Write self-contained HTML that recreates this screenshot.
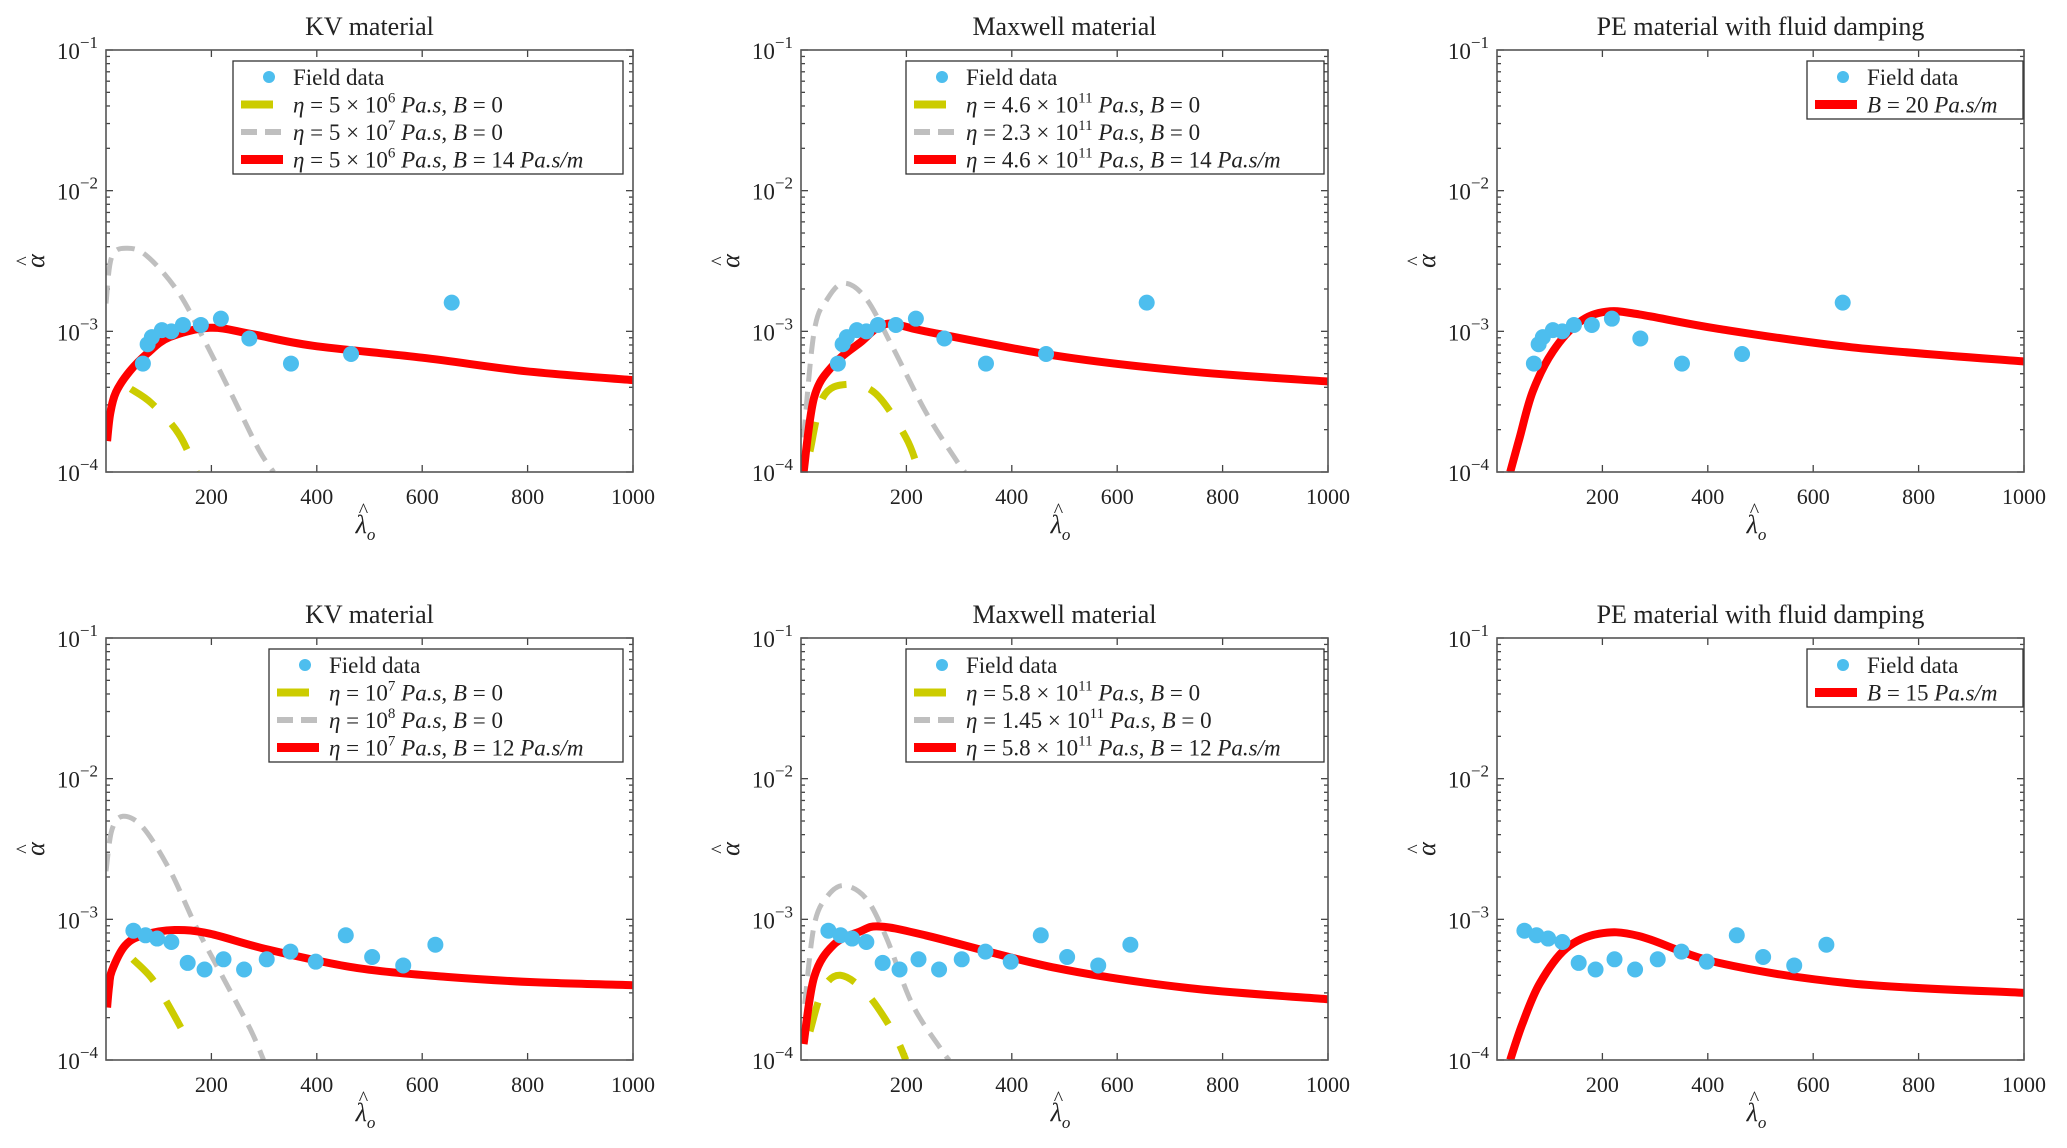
<!DOCTYPE html>
<html><head><meta charset="utf-8"><style>
html,body{margin:0;padding:0;background:#fff}
svg{display:block}
text{font-family:"Liberation Serif",serif;fill:#222}
</style></head><body>
<svg id="fig" width="2067" height="1148" viewBox="0 0 2067 1148" xmlns="http://www.w3.org/2000/svg"></svg>
<script>
// ---- data ----
const topFieldX = [70,79,87,106,124,146,180,218,272,351,465,656];
const topFieldY = [5.9e-4,8.1e-4,9.1e-4,1.02e-3,1.0e-3,1.11e-3,1.11e-3,1.23e-3,8.9e-4,5.9e-4,6.9e-4,1.6e-3];
const botFieldX = [52,75,97,124,155,187,223,262,305,350,398,455,505,564,625];
const botFieldY = [8.3e-4,7.7e-4,7.3e-4,6.9e-4,4.9e-4,4.4e-4,5.2e-4,4.4e-4,5.2e-4,5.9e-4,5.0e-4,7.7e-4,5.4e-4,4.7e-4,6.6e-4];

const kv1RedX = [2,8,19,45,79,121,197,274,392,600,798,1000];
const kv1RedY = [1.66e-4,2.6e-4,3.7e-4,5.2e-4,7.0e-4,9.1e-4,1.06e-3,9.6e-4,7.9e-4,6.5e-4,5.2e-4,4.5e-4];
const kv1GrayX = [0,11,41,79,138,189,240,290,318];
const kv1GrayY = [1.58e-3,3.4e-3,3.9e-3,3.4e-3,1.88e-3,8.3e-4,3.45e-4,1.44e-4,1.0e-4];
const kv1YelX = [47,87,138,172];
const kv1YelY = [3.9e-4,3.07e-4,1.87e-4,1.0e-4];

const mx1RedX = [5,25,62,112,162,236,485,734,1000];
const mx1RedY = [1.0e-4,3.4e-4,5.8e-4,8.3e-4,1.13e-3,1.0e-3,6.7e-4,5.2e-4,4.4e-4];
const mx1GrayX = [5,25,50,82,124,174,236,291,311];
const mx1GrayY = [1.76e-4,1.0e-3,1.7e-3,2.2e-3,1.7e-3,7.7e-4,2.7e-4,1.27e-4,1.0e-4];
const mx1YelX = [17,42,87,142,199,224];
const mx1YelY = [1.4e-4,3.4e-4,4.2e-4,3.6e-4,1.76e-4,1.0e-4];

const pe1RedX = [25,43,68,106,156,207,270,421,673,1000];
const pe1RedY = [1.0e-4,1.76e-4,3.75e-4,7.2e-4,1.16e-3,1.38e-3,1.32e-3,1.04e-3,7.7e-4,6.1e-4];

const kv2RedX = [2,6,11,36,70,130,197,307,477,646,815,1000];
const kv2RedY = [2.36e-4,3.4e-4,4.3e-4,6.5e-4,7.7e-4,8.4e-4,7.9e-4,6.1e-4,4.5e-4,3.9e-4,3.57e-4,3.4e-4];
const kv2GrayX = [0,11,32,70,121,172,223,274,299];
const kv2GrayY = [2.2e-3,4.3e-3,5.4e-3,4.5e-3,2.24e-3,8.7e-4,3.8e-4,1.65e-4,1.0e-4];
const kv2YelX = [51,87,121,155,162];
const kv2YelY = [5.2e-4,3.8e-4,2.36e-4,1.38e-4,1.2e-4];

const mx2RedX = [5,25,62,112,149,236,485,734,1000];
const mx2RedY = [1.3e-4,3.9e-4,6.6e-4,8.2e-4,8.9e-4,7.7e-4,4.5e-4,3.25e-4,2.7e-4];
const mx2GrayX = [7,25,50,82,124,162,211,266,281];
const mx2GrayY = [2.5e-4,9.1e-4,1.46e-3,1.74e-3,1.4e-3,7.4e-4,2.5e-4,1.19e-4,1.0e-4];
const mx2YelX = [17,42,75,124,174,199];
const mx2YelY = [1.6e-4,3.2e-4,4.0e-4,3.0e-4,1.6e-4,1.0e-4];

const pe2RedX = [25,48,81,131,194,270,421,673,1000];
const pe2RedY = [1.0e-4,1.8e-4,3.5e-4,6.2e-4,7.9e-4,7.6e-4,4.9e-4,3.5e-4,3.0e-4];

const xTicks = [200,400,600,800,1000];
const yTickExp = [-4,-3,-2,-1];

// ---- drawing ----
const NS = "http://www.w3.org/2000/svg";
const svg = document.getElementById('fig');
function mk(tag, attrs, parent){
  const e = document.createElementNS(NS, tag);
  for (const k in attrs) e.setAttribute(k, attrs[k]);
  (parent||svg).appendChild(e);
  return e;
}
const RED='#ff0000', GRAY='#bfbfbf', YEL='#cccc00', BLUE='#4dbeee';

function smoothPath(pts){
  let d = 'M'+pts[0][0].toFixed(1)+','+pts[0][1].toFixed(1);
  for (let i=0;i<pts.length-1;i++){
    const p0=pts[Math.max(0,i-1)], p1=pts[i], p2=pts[i+1], p3=pts[Math.min(pts.length-1,i+2)];
    const c1=[p1[0]+(p2[0]-p0[0])/6, p1[1]+(p2[1]-p0[1])/6];
    const c2=[p2[0]-(p3[0]-p1[0])/6, p2[1]-(p3[1]-p1[1])/6];
    d+=' C'+c1[0].toFixed(1)+','+c1[1].toFixed(1)+' '+c2[0].toFixed(1)+','+c2[1].toFixed(1)+' '+p2[0].toFixed(1)+','+p2[1].toFixed(1);
  }
  return d;
}

function panel(idx, L, T, W, H, title, fx, fy, curves, legend){
  const g = mk('g', {});
  
  
  const xs = v => L + v/1000*W;
  const ys = v => T + H*(-1 - Math.log10(v))/3;
  const clipId = 'clip'+idx;
  const cp = mk('clipPath', {id:clipId}, g);
  mk('rect', {x:L, y:T, width:W, height:H}, cp);
  const tt = mk('text', {x:L+W/2, y:T-15, 'text-anchor':'middle', 'font-size':26}, g);
  
  
  tt.textContent = title;
  const tk = mk('g', {stroke:'#444', 'stroke-width':1.3}, g);
  
  
  xTicks.forEach(v=>{
    const x = xs(v);
    mk('line', {x1:x, y1:T+H, x2:x, y2:T+H-7}, tk);
    mk('line', {x1:x, y1:T, x2:x, y2:T+7}, tk);
    const lb = mk('text', {x:x, y:T+H+32, 'text-anchor':'middle', 'font-size':22, stroke:'none'}, g);
    
    
    lb.textContent = v;
  });
  yTickExp.forEach(e=>{
    const y = ys(Math.pow(10,e));
    mk('line', {x1:L, y1:y, x2:L+7, y2:y}, tk);
    mk('line', {x1:L+W, y1:y, x2:L+W-7, y2:y}, tk);
    if (e < -1) for (let m=2;m<=9;m++){
      const yy = ys(m*Math.pow(10,e));
      mk('line', {x1:L, y1:yy, x2:L+4, y2:yy}, tk);
      mk('line', {x1:L+W, y1:yy, x2:L+W-4, y2:yy}, tk);
    }
    const lb = mk('text', {x:L-8, y:y+9, 'text-anchor':'end', 'font-size':23}, g);
    
    
    lb.innerHTML = '10<tspan dy="-11" font-size="17">\u2212'+(-e)+'</tspan>';
  });
  // axis labels
  const xl = mk('text', {x:L+W/2-4, y:T+H+61, 'text-anchor':'middle', 'font-size':26, 'font-style':'italic'}, g);
  
  
  xl.innerHTML = 'λ<tspan dy="7" font-size="17">o</tspan>';
  const xh = mk('text', {x:L+W/2-6, y:T+H+45, 'text-anchor':'middle', 'font-size':20}, g);
  
  
  xh.textContent = '^';
  const yl = mk('text', {x:0, y:0, 'text-anchor':'middle', 'font-size':26, 'font-style':'italic', transform:'translate('+(L-62)+','+(T+H/2)+') rotate(-90)'}, g);
  
  
  yl.textContent = 'α';
  const yh = mk('text', {x:0, y:0, 'text-anchor':'middle', 'font-size':20, transform:'translate('+(L-76)+','+(T+H/2)+') rotate(-90)'}, g);
  
  
  yh.textContent = '^';
  // curves
  const cg = mk('g', {'clip-path':'url(#'+clipId+')', fill:'none'}, g);
  curves.forEach(c=>{
    const pts = c.x.map((v,i)=>[xs(v), ys(c.y[i])]);
    const p = mk('path', {d:smoothPath(pts), stroke:c.color, 'stroke-width':c.w, 'stroke-dasharray':c.dash||'none', 'stroke-linecap':'butt'}, cg);
    
    
  });
  const fg = mk('g', {'clip-path':'url(#'+clipId+')'}, g);
  fx.forEach((v,i)=>{
    const c = mk('circle', {cx:xs(v), cy:ys(fy[i]), r:8, fill:BLUE}, fg);
    
    
  });
  const fr = mk('rect', {x:L, y:T, width:W, height:H, fill:'none', stroke:'#555', 'stroke-width':1.6}, g);
  
  
  // legend
  const lg = mk('g', {}, g);
  
  
  mk('rect', {x:legend.x, y:T+11, width:legend.w, height:legend.items.length*27.5+3, fill:'#fff', stroke:'#333', 'stroke-width':1.3}, lg);
  legend.items.forEach((it,i)=>{
    const cy = T+27+i*27.5;
    const sx = legend.x+8;
    if (it.type==='dot'){
      mk('circle', {cx:sx+28, cy:cy, r:6, fill:BLUE}, lg);
    } else {
      mk('line', {x1:sx, y1:cy, x2:sx+42, y2:cy, stroke:it.color, 'stroke-width':it.w, 'stroke-dasharray':it.dash||'none'}, lg);
    }
    const t = mk('text', {x:sx+52, y:cy+8, 'font-size':23}, lg);
    
    
    t.innerHTML = it.label;
  });
}

const sup = s => '<tspan dy="-10" font-size="15">'+s+'</tspan><tspan dy="10"> </tspan>';
const I = s => '<tspan font-style="italic">'+s+'</tspan>';
function lab(eta, B){
  return I('η')+' = '+eta+' '+I('Pa.s')+', '+I('B')+' = '+B;
}
const tx = (a,e) => (a? a+' × ':'')+'10'+sup(e);

const W=527, H=422;
const cols=[106,801,1497], rows=[50,638];
const dashY='30,24', dashG='18,10';

panel(1, cols[0], rows[0], W, H, 'KV material', topFieldX, topFieldY, [
  {x:kv1YelX,y:kv1YelY,color:YEL,w:7,dash:dashY,name:'yellow-curve'},
  {x:kv1GrayX,y:kv1GrayY,color:GRAY,w:5,dash:dashG,name:'gray-curve'},
  {x:kv1RedX,y:kv1RedY,color:RED,w:8,name:'red-curve'}],
  {x:233,w:390,items:[
    {type:'dot',label:'Field data'},
    {color:YEL,w:8,dash:'32,10',label:lab(tx('5','6'),'0')},
    {color:GRAY,w:6,dash:'16,8',label:lab(tx('5','7'),'0')},
    {color:RED,w:9,label:lab(tx('5','6'),'14 '+I('Pa.s/m'))}]});

panel(2, cols[1], rows[0], W, H, 'Maxwell material', topFieldX, topFieldY, [
  {x:mx1YelX,y:mx1YelY,color:YEL,w:7,dash:dashY,name:'yellow-curve'},
  {x:mx1GrayX,y:mx1GrayY,color:GRAY,w:5,dash:dashG,name:'gray-curve'},
  {x:mx1RedX,y:mx1RedY,color:RED,w:8,name:'red-curve'}],
  {x:906,w:418,items:[
    {type:'dot',label:'Field data'},
    {color:YEL,w:8,dash:'32,10',label:lab(tx('4.6','11'),'0')},
    {color:GRAY,w:6,dash:'16,8',label:lab(tx('2.3','11'),'0')},
    {color:RED,w:9,label:lab(tx('4.6','11'),'14 '+I('Pa.s/m'))}]});

panel(3, cols[2], rows[0], W, H, 'PE material with fluid damping', topFieldX, topFieldY, [
  {x:pe1RedX,y:pe1RedY,color:RED,w:8,name:'red-curve'}],
  {x:1807,w:216,items:[
    {type:'dot',label:'Field data'},
    {color:RED,w:9,label:I('B')+' = 20 '+I('Pa.s/m')}]});

panel(4, cols[0], rows[1], W, H, 'KV material', botFieldX, botFieldY, [
  {x:kv2YelX,y:kv2YelY,color:YEL,w:7,dash:dashY,name:'yellow-curve'},
  {x:kv2GrayX,y:kv2GrayY,color:GRAY,w:5,dash:dashG,name:'gray-curve'},
  {x:kv2RedX,y:kv2RedY,color:RED,w:8,name:'red-curve'}],
  {x:269,w:354,items:[
    {type:'dot',label:'Field data'},
    {color:YEL,w:8,dash:'32,10',label:lab(tx('','7'),'0')},
    {color:GRAY,w:6,dash:'16,8',label:lab(tx('','8'),'0')},
    {color:RED,w:9,label:lab(tx('','7'),'12 '+I('Pa.s/m'))}]});

panel(5, cols[1], rows[1], W, H, 'Maxwell material', botFieldX, botFieldY, [
  {x:mx2YelX,y:mx2YelY,color:YEL,w:7,dash:dashY,name:'yellow-curve'},
  {x:mx2GrayX,y:mx2GrayY,color:GRAY,w:5,dash:dashG,name:'gray-curve'},
  {x:mx2RedX,y:mx2RedY,color:RED,w:8,name:'red-curve'}],
  {x:906,w:418,items:[
    {type:'dot',label:'Field data'},
    {color:YEL,w:8,dash:'32,10',label:lab(tx('5.8','11'),'0')},
    {color:GRAY,w:6,dash:'16,8',label:lab(tx('1.45','11'),'0')},
    {color:RED,w:9,label:lab(tx('5.8','11'),'12 '+I('Pa.s/m'))}]});

panel(6, cols[2], rows[1], W, H, 'PE material with fluid damping', botFieldX, botFieldY, [
  {x:pe2RedX,y:pe2RedY,color:RED,w:8,name:'red-curve'}],
  {x:1807,w:216,items:[
    {type:'dot',label:'Field data'},
    {color:RED,w:9,label:I('B')+' = 15 '+I('Pa.s/m')}]});
</script>
</body></html>
